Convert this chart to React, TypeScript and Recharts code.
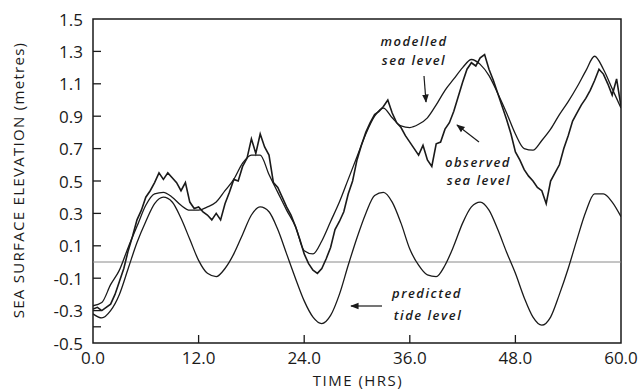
import { LineChart, Line, XAxis, YAxis, ReferenceLine, ReferenceArea } from "recharts";

// predicted tide and modelled sea level, one value per hour (0..60 h)
const predicted = [
  -0.32, -0.345, -0.3, -0.2, -0.04, 0.12, 0.25, 0.36, 0.4, 0.37, 0.27, 0.14, 0.01,
  -0.07, -0.09, -0.04, 0.05, 0.17, 0.29, 0.34, 0.31, 0.2, 0.05, -0.1, -0.24, -0.34,
  -0.38, -0.33, -0.2, -0.02, 0.15, 0.3, 0.41, 0.43, 0.37, 0.24, 0.08, -0.02, -0.08,
  -0.09, -0.02, 0.1, 0.24, 0.34, 0.37, 0.32, 0.2, 0.06, -0.07, -0.22, -0.34, -0.39,
  -0.34, -0.2, -0.04, 0.14, 0.31, 0.42, 0.42, 0.37, 0.28,
];
const modelled = [
  -0.27, -0.25, -0.14, -0.05, 0.09, 0.22, 0.35, 0.42, 0.43, 0.4, 0.35, 0.32, 0.32,
  0.34, 0.37, 0.44, 0.51, 0.61, 0.66, 0.66, 0.54, 0.43, 0.32, 0.22, 0.07, 0.05,
  0.13, 0.25, 0.37, 0.51, 0.65, 0.79, 0.9, 0.95, 0.89, 0.84, 0.83, 0.85, 0.89, 0.97,
  1.06, 1.13, 1.2, 1.25, 1.22, 1.15, 1.04, 0.92, 0.79, 0.7, 0.69, 0.75, 0.82, 0.91,
  0.99, 1.08, 1.18, 1.27, 1.19, 1.07, 0.95,
];
// observed sea level, every half hour
const observed = [
  -0.29, -0.28, -0.3, -0.28, -0.26, -0.2, -0.12, -0.04, 0.07, 0.16, 0.26, 0.32,
  0.4, 0.44, 0.49, 0.55, 0.51, 0.55, 0.52, 0.49, 0.44, 0.49, 0.37, 0.33, 0.34,
  0.31, 0.29, 0.26, 0.3, 0.26, 0.36, 0.43, 0.51, 0.5, 0.59, 0.64, 0.76, 0.67,
  0.79, 0.71, 0.66, 0.49, 0.46, 0.4, 0.34, 0.29, 0.22, 0.14, 0.05, -0.01, -0.05,
  -0.07, -0.04, 0.02, 0.09, 0.2, 0.25, 0.31, 0.42, 0.5, 0.63, 0.72, 0.8, 0.86,
  0.91, 0.93, 0.96, 1.0, 0.92, 0.86, 0.83, 0.78, 0.74, 0.7, 0.66, 0.72, 0.63,
  0.59, 0.73, 0.74, 0.82, 0.86, 0.93, 1.02, 1.11, 1.19, 1.23, 1.21, 1.26, 1.28,
  1.19, 1.12, 1.04, 0.96, 0.88, 0.79, 0.68, 0.63, 0.57, 0.53, 0.5, 0.46, 0.44,
  0.36, 0.5, 0.55, 0.6, 0.7, 0.78, 0.87, 0.92, 0.97, 1.01, 1.06, 1.12, 1.19,
  1.16, 1.1, 1.03, 1.13, 0.96,
];

const xTicks = [0, 12, 24, 36, 48, 60];
const yTicks = [-0.5, -0.4, -0.3, -0.1, 0.1, 0.3, 0.5, 0.7, 0.9, 1.1, 1.3, 1.5];
const yLabelled = [-0.5, -0.3, -0.1, 0.1, 0.3, 0.5, 0.7, 0.9, 1.1, 1.3, 1.5];

const hourly = predicted.map((v, i) => ({ t: i, predicted: v, modelled: modelled[i] }));
const halfHourly = observed.map((v, i) => ({ t: i * 0.5, observed: v }));

const ink = "#1a1a1a";
const font = "'Open Sans', sans-serif";

const XTick = (props: any) => {
  const { x, y, payload } = props;
  const v = payload.value;
  const edge = v === 0 || v === 60;
  return (
    <g>
      {!edge && <line x1={x} x2={x} y1={y - 14} y2={y - 22} stroke={ink} strokeWidth={1.3} />}
      <text x={x} y={y} textAnchor="middle" dominantBaseline="central" fontSize={17} fill={ink} fontFamily={font}>
        {v.toFixed(1)}
      </text>
    </g>
  );
};

const YTick = (props: any) => {
  const { x, y, payload } = props;
  const v = payload.value;
  const edge = v === -0.5 || v === 1.5;
  return (
    <g>
      {!edge && <line x1={x + 10} x2={x + 18} y1={y} y2={y} stroke={ink} strokeWidth={1.3} />}
      {yLabelled.includes(v) && (
        <text x={x} y={y} textAnchor="end" dominantBaseline="central" fontSize={17} fill={ink} fontFamily={font}>
          {v.toFixed(1)}
        </text>
      )}
    </g>
  );
};

const note = {
  fontFamily: font,
  fontStyle: "italic" as const,
  fontWeight: 600,
  fontSize: 13,
  letterSpacing: 1.5,
  fill: ink,
};

export default function App() {
  return (
    <div style={{ position: "absolute", left: 0, top: 0, width: 640, height: 390, background: "#fff" }}>
      <LineChart width={640} height={390} margin={{ top: 19, right: 19, left: 0, bottom: 0 }}>
        <XAxis
          type="number"
          dataKey="t"
          domain={[0, 60]}
          ticks={xTicks}
          height={47}
          axisLine={false}
          tickLine={false}
          tickSize={0}
          tickMargin={14}
          tick={<XTick />}
          allowDataOverflow
        />
        <YAxis
          type="number"
          domain={[-0.5, 1.5]}
          ticks={yTicks}
          width={93}
          axisLine={false}
          tickLine={false}
          tickSize={0}
          tickMargin={10}
          tick={<YTick />}
          interval={0}
          allowDataOverflow
        />
        <ReferenceArea x1={0} x2={60} y1={-0.5} y2={1.5} fill="none" stroke={ink} strokeWidth={1.5} fillOpacity={0} />
        <ReferenceLine y={0} stroke="#8a8a8a" strokeWidth={1} />
        <Line data={hourly} dataKey="predicted" type="monotone" stroke={ink} strokeWidth={1.3} dot={false} isAnimationActive={false} />
        <Line data={hourly} dataKey="modelled" type="monotone" stroke={ink} strokeWidth={1.3} dot={false} isAnimationActive={false} />
        <Line data={halfHourly} dataKey="observed" type="linear" stroke={ink} strokeWidth={1.6} dot={false} isAnimationActive={false} />
      </LineChart>
      <svg width={640} height={390} style={{ position: "absolute", left: 0, top: 0, pointerEvents: "none" }}>
        <defs>
          <marker id="head" viewBox="0 0 10 10" refX="9" refY="5" markerWidth="7" markerHeight="7" orient="auto">
            <path d="M0,1 L10,5 L0,9 z" fill={ink} />
          </marker>
        </defs>
        <text
          transform="translate(18,180) rotate(-90)"
          textAnchor="middle"
          dominantBaseline="central"
          fontFamily={font}
          fontSize={15}
          letterSpacing={1.3}
          fill={ink}
        >
          SEA SURFACE ELEVATION (metres)
        </text>
        <text x={358} y={386} textAnchor="middle" fontFamily={font} fontSize={15} letterSpacing={1.5} fill={ink}>
          TIME (HRS)
        </text>

        <text x={414} y={46} textAnchor="middle" {...note}>modelled</text>
        <text x={414} y={65} textAnchor="middle" {...note}>sea level</text>
        <line x1={424} y1={76} x2={426} y2={102} stroke={ink} strokeWidth={1.2} markerEnd="url(#head)" />

        <text x={478} y={167} textAnchor="middle" {...note}>observed</text>
        <text x={479} y={185} textAnchor="middle" {...note}>sea level</text>
        <line x1={479} y1={142} x2={457} y2={125} stroke={ink} strokeWidth={1.2} markerEnd="url(#head)" />

        <text x={427} y={298} textAnchor="middle" {...note}>predicted</text>
        <text x={428} y={320} textAnchor="middle" {...note}>tide level</text>
        <line x1={382} y1={306} x2={351} y2={306} stroke={ink} strokeWidth={1.2} markerEnd="url(#head)" />
      </svg>
    </div>
  );
}
